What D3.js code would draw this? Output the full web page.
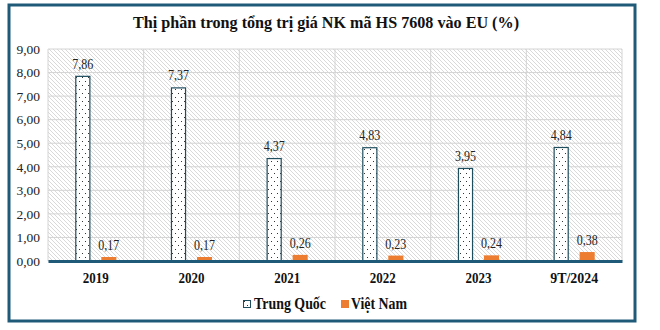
<!DOCTYPE html>
<html><head><meta charset="utf-8">
<script src="https://cdn.jsdelivr.net/npm/d3@7"></script>
<style>body{margin:0;background:#fff}svg{display:block}text{font-family:"Liberation Serif","Times New Roman",serif}</style>
</head><body>
<script>
const categories = ["2019","2020","2021","2022","2023","9T/2024"];
const trungQuoc = [7.86,7.37,4.37,4.83,3.95,4.84];
const vietNam = [0.17,0.17,0.26,0.23,0.24,0.38];
const yTicks = [0,1,2,3,4,5,6,7,8,9];
const seriesNames = ["Trung Quốc","Việt Nam"];
const title = "Thị phần trong tổng trị giá NK mã HS 7608 vào EU (%)";

(function(){
const FF='"Liberation Serif","Times New Roman",serif';
const W=660,H=330;
const svg=d3.select("body").append("svg").attr("width",W).attr("height",H);
const defs=svg.append("defs");
const hatch=defs.append("pattern").attr("id","hatch").attr("patternUnits","userSpaceOnUse").attr("width",4).attr("height",4);
hatch.append("rect").attr("width",4).attr("height",4).attr("fill","#fff");
hatch.append("path").attr("d","M-1,-1L5,5M-1,3L1,5M3,-1L5,1").attr("stroke","#cfcfcf").attr("stroke-width",0.8);
const dots=defs.append("pattern").attr("id","dots").attr("patternUnits","userSpaceOnUse").attr("width",6).attr("height",8);
dots.append("rect").attr("width",6).attr("height",8).attr("fill","#fff");
dots.append("rect").attr("x",1).attr("y",1).attr("width",1).attr("height",1).attr("fill","#333");
dots.append("rect").attr("x",4).attr("y",5).attr("width",1).attr("height",1).attr("fill","#333");

const frameColor="#1f5a78";
svg.append("rect").attr("x",9).attr("y",5).attr("width",626).attr("height",316).attr("fill","#fff").attr("stroke",frameColor).attr("stroke-width",3);

svg.append("text").attr("x",326).attr("y",28).attr("text-anchor","middle")
 .attr("font-family",FF).attr("font-weight","bold").attr("font-size",17)
 .attr("textLength",386).attr("lengthAdjust","spacingAndGlyphs").attr("fill","#111").text(title);

const pL=48,pR=622,pT=49,pB=261;
const x=d3.scaleBand().domain(categories).range([pL,pR]);
const y=d3.scaleLinear().domain([0,9]).range([pB,pT]);

svg.append("rect").attr("x",pL).attr("y",pT).attr("width",pR-pL).attr("height",pB-pT).attr("fill","url(#hatch)");
svg.append("g").selectAll("line").data(yTicks).join("line")
 .attr("x1",pL).attr("x2",pR).attr("y1",d=>y(d)).attr("y2",d=>y(d)).attr("stroke","#d4d4d4").attr("stroke-width",1);
svg.append("g").selectAll("line").data(categories).join("line")
 .attr("x1",d=>x(d)+x.bandwidth()).attr("x2",d=>x(d)+x.bandwidth()).attr("y1",pT).attr("y2",pB).attr("stroke","#d4d4d4").attr("stroke-width",1);
svg.append("line").attr("x1",pL).attr("x2",pL).attr("y1",pT).attr("y2",pB).attr("stroke","#d4d4d4");

const inner=d3.scaleBand().domain(seriesNames).range([0,x.bandwidth()]).paddingInner(0.42).paddingOuter(1.05);
const fmt=v=>v.toFixed(2).replace(".",",");

svg.append("g").selectAll("rect").data(trungQuoc).join("rect")
 .attr("x",(d,i)=>x(categories[i])+inner("Trung Quốc")+0.5).attr("y",d=>y(d)+0.5)
 .attr("width",inner.bandwidth()-1).attr("height",d=>pB-y(d)-0.5)
 .attr("fill","url(#dots)").attr("stroke","#1f4e5f").attr("stroke-width",1.2);
svg.append("g").selectAll("rect").data(vietNam).join("rect")
 .attr("x",(d,i)=>x(categories[i])+inner("Việt Nam")).attr("y",d=>y(d))
 .attr("width",inner.bandwidth()).attr("height",d=>pB-y(d)).attr("fill","#ed7d31");

function addLabels(data,name){
 svg.append("g").selectAll("text").data(data).join("text")
  .attr("x",(d,i)=>x(categories[i])+inner(name)+inner.bandwidth()/2)
  .attr("y",d=>y(d)-7).attr("text-anchor","middle")
  .attr("font-family",FF).attr("font-size",14).attr("textLength",21).attr("lengthAdjust","spacingAndGlyphs").attr("fill","#222")
  .text(d=>fmt(d));
}
addLabels(trungQuoc,"Trung Quốc");
addLabels(vietNam,"Việt Nam");

const yAxis=svg.append("g").attr("transform",`translate(${pL},0)`)
 .call(d3.axisLeft(y).tickValues(yTicks).tickSize(0).tickPadding(8).tickFormat(fmt));
yAxis.attr("font-family",FF);
yAxis.select(".domain").remove();
yAxis.selectAll("text").attr("font-family",FF).attr("font-size",13.5).attr("fill","#222");

const xAxis=svg.append("g").attr("transform",`translate(0,${pB})`)
 .call(d3.axisBottom(x).tickSize(0).tickPadding(12));
xAxis.attr("font-family",FF);
xAxis.select(".domain").attr("stroke",frameColor).attr("stroke-width",3);
xAxis.selectAll("text").attr("font-family",FF).attr("font-weight","bold").attr("font-size",14)
 .attr("textLength",d=>d.length>4?48:26).attr("lengthAdjust","spacingAndGlyphs").attr("fill","#111");

const leg=svg.append("g");
leg.append("rect").attr("x",243.5).attr("y",300.5).attr("width",7).attr("height",7).attr("fill","url(#dots)").attr("stroke","#1f4e5f").attr("stroke-width",1);
leg.append("text").attr("x",254).attr("y",309).attr("font-family",FF).attr("font-weight","bold").attr("font-size",16)
 .attr("textLength",72).attr("lengthAdjust","spacingAndGlyphs").attr("fill","#111").text(seriesNames[0]);
leg.append("rect").attr("x",341).attr("y",300).attr("width",8).attr("height",8).attr("fill","#ed7d31");
leg.append("text").attr("x",351).attr("y",309).attr("font-family",FF).attr("font-weight","bold").attr("font-size",16)
 .attr("textLength",56).attr("lengthAdjust","spacingAndGlyphs").attr("fill","#111").text(seriesNames[1]);
})();
</script>
</body></html>
